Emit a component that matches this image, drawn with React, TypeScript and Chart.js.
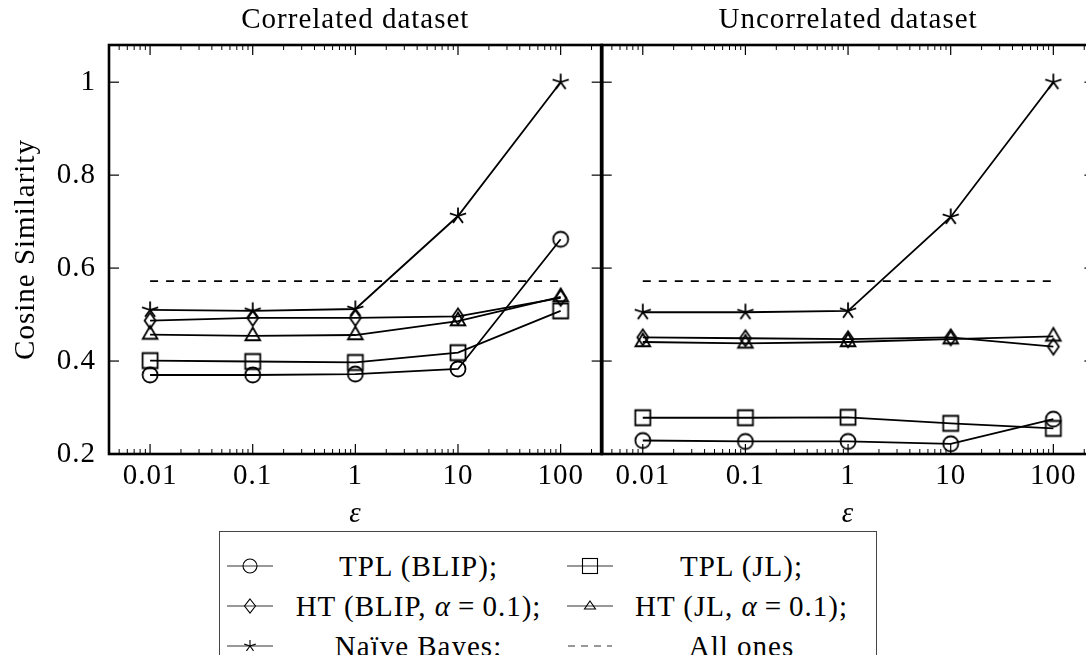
import React, { useEffect, useRef } from 'react';
import { Chart, registerables } from 'chart.js';

Chart.register(...registerables);

const FONT = '"Liberation Serif", "Times New Roman", serif';
const FS = 29;

// ---- data ----
const epsilons = [0.01, 0.1, 1, 10, 100];
const xTickValues = [0.01, 0.1, 1, 10, 100];
const xTickLabels = ['0.01', '0.1', '1', '10', '100'];
const yTickValues = [0.2, 0.4, 0.6, 0.8, 1];
const yTickLabels = ['0.2', '0.4', '0.6', '0.8', '1'];
const xMinorMultipliers = [2, 3, 4, 5, 6, 7, 8, 9];
const xMin = 0.00398;
const xMax = 251.2;
const yMin = 0.2;
const yMax = 1.08;

const seriesNames = ['TPL (BLIP)', 'TPL (JL)', 'HT (BLIP, α = 0.1)', 'HT (JL, α = 0.1)', 'Naïve Bayes', 'All ones'];
const markerKinds = ['circle', 'square', 'diamond', 'triangle', 'star', 'dash'];

// Correlated dataset
const corrTplBlip = [0.370, 0.370, 0.372, 0.383, 0.662];
const corrTplJl = [0.401, 0.399, 0.397, 0.418, 0.508];
const corrHtBlip = [0.487, 0.493, 0.493, 0.496, 0.536];
const corrHtJl = [0.457, 0.454, 0.456, 0.486, 0.538];
const corrNaive = [0.510, 0.508, 0.512, 0.712, 1.0];
const corrAllOnes = [0.572, 0.572, 0.572, 0.572, 0.572];

// Uncorrelated dataset
const uncTplBlip = [0.229, 0.227, 0.227, 0.222, 0.275];
const uncTplJl = [0.278, 0.278, 0.279, 0.266, 0.255];
const uncHtBlip = [0.451, 0.449, 0.447, 0.451, 0.431];
const uncHtJl = [0.441, 0.438, 0.441, 0.447, 0.453];
const uncNaive = [0.505, 0.505, 0.508, 0.710, 1.0];
const uncAllOnes = [0.572, 0.572, 0.572, 0.572, 0.572];

const panelTitles = ['Correlated dataset', 'Uncorrelated dataset'];
const yAxisTitle = 'Cosine Similarity';
const xAxisTitle = 'ε';

function makeMarker(kind: string): HTMLCanvasElement {
  const size = 22;
  const c = document.createElement('canvas');
  c.width = size;
  c.height = size;
  const ctx = c.getContext('2d')!;
  ctx.strokeStyle = '#000';
  ctx.lineWidth = 1.8;
  const m = size / 2;
  ctx.beginPath();
  if (kind === 'circle') {
    ctx.arc(m, m, 7.5, 0, Math.PI * 2);
  } else if (kind === 'square') {
    ctx.rect(m - 7.5, m - 7.5, 15, 15);
  } else if (kind === 'diamond') {
    ctx.moveTo(m, m - 8);
    ctx.lineTo(m + 5.5, m);
    ctx.lineTo(m, m + 8);
    ctx.lineTo(m - 5.5, m);
    ctx.closePath();
  } else if (kind === 'triangle') {
    const r = 8.5;
    ctx.moveTo(m, m - r);
    ctx.lineTo(m + r * 0.866, m + r / 2);
    ctx.lineTo(m - r * 0.866, m + r / 2);
    ctx.closePath();
  } else if (kind === 'star') {
    for (let k = 0; k < 5; k++) {
      const a = (-90 + 72 * k) * Math.PI / 180;
      ctx.moveTo(m, m);
      ctx.lineTo(m + 8.5 * Math.cos(a), m + 8.5 * Math.sin(a));
    }
  }
  ctx.stroke();
  return c;
}

const axesPlugin = {
  id: 'pgfAxes',
  afterDraw(chart: any, _args: any, opts: any) {
    const { ctx, chartArea: a, scales } = chart;
    const xs = scales.x;
    const ys = scales.y;
    ctx.save();
    ctx.strokeStyle = '#000';
    const seg = (x1: number, y1: number, x2: number, y2: number) => {
      ctx.beginPath();
      ctx.moveTo(x1, y1);
      ctx.lineTo(x2, y2);
      ctx.stroke();
    };
    // minor x ticks
    ctx.lineWidth = 1;
    for (let d = -3; d <= 2; d++) {
      for (const k of xMinorMultipliers) {
        const v = k * Math.pow(10, d);
        if (v < xs.min || v > xs.max) continue;
        const px = xs.getPixelForValue(v);
        seg(px, a.top, px, a.top + 5);
        seg(px, a.bottom, px, a.bottom - 5);
      }
    }
    // major x ticks
    ctx.lineWidth = 1.2;
    for (const v of xTickValues) {
      const px = xs.getPixelForValue(v);
      seg(px, a.top, px, a.top + 10);
      seg(px, a.bottom, px, a.bottom - 10);
    }
    // y ticks
    for (const v of yTickValues) {
      const py = ys.getPixelForValue(v);
      seg(a.left, py, a.left + 10, py);
      seg(a.right, py, a.right - 10, py);
    }
    // frame
    ctx.lineWidth = 2.6;
    ctx.strokeRect(a.left, a.top, a.right - a.left, a.bottom - a.top);
    if (opts.sharedEdge === 'right') {
      ctx.lineWidth = 3.8;
      seg(a.right, a.top - 1, a.right, a.bottom + 1);
    } else if (opts.sharedEdge === 'left') {
      ctx.lineWidth = 3.8;
      seg(a.left, a.top - 1, a.left, a.bottom + 1);
    }
    // labels
    ctx.fillStyle = '#000';
    try { (ctx as any).letterSpacing = '1px'; } catch (e) { /* ignore */ }
    ctx.font = `${FS}px ${FONT}`;
    ctx.textAlign = 'center';
    ctx.textBaseline = 'middle';
    xTickValues.forEach((v, i) => {
      ctx.fillText(xTickLabels[i], xs.getPixelForValue(v), a.bottom + 22);
    });
    const cx = (a.left + a.right) / 2;
    ctx.fillText(opts.title, cx, 20);
    ctx.font = `italic ${FS}px ${FONT}`;
    ctx.fillText(xAxisTitle, cx, a.bottom + 60);
    if (opts.showY) {
      ctx.font = `${FS}px ${FONT}`;
      ctx.textAlign = 'right';
      yTickValues.forEach((v, i) => {
        ctx.fillText(yTickLabels[i], a.left - 13, ys.getPixelForValue(v));
      });
      ctx.save();
      ctx.translate(26, (a.top + a.bottom) / 2);
      ctx.rotate(-Math.PI / 2);
      ctx.textAlign = 'center';
      ctx.fillText(yAxisTitle, 0, 0);
      ctx.restore();
    }
    ctx.restore();
  },
};

function buildChart(canvas: HTMLCanvasElement, series: number[][], title: string, showY: boolean, sharedEdge: string, padding: any) {
  const markers = markerKinds.map((k) => (k === 'dash' ? null : makeMarker(k)));
  const datasets = series.map((vals, i) => ({
    label: seriesNames[i],
    data: epsilons.map((x, j) => ({ x, y: vals[j] })),
    borderColor: '#000',
    backgroundColor: 'transparent',
    borderWidth: 1.8,
    borderDash: markerKinds[i] === 'dash' ? [8, 8] : [],
    pointStyle: (markers[i] || 'circle') as any,
    pointRadius: markerKinds[i] === 'dash' ? 0 : 8,
    pointHoverRadius: markerKinds[i] === 'dash' ? 0 : 8,
    tension: 0,
    fill: false,
    clip: false as any,
  }));
  return new Chart(canvas, {
    type: 'line',
    data: { datasets },
    options: {
      animation: false,
      responsive: false,
      devicePixelRatio: 1,
      events: [],
      layout: { padding, autoPadding: false } as any,
      plugins: {
        legend: { display: false },
        tooltip: { enabled: false },
        pgfAxes: { title, showY, sharedEdge },
      } as any,
      scales: {
        x: { type: 'logarithmic', min: xMin, max: xMax, display: false, offset: false },
        y: { type: 'linear', min: yMin, max: yMax, display: false },
      },
    },
    plugins: [axesPlugin],
  });
}

function LegendMarker({ kind, left, cy }: { kind: string; left: number; cy: number }) {
  const m = 23;
  let shape: any = null;
  const sp = { fill: 'none', stroke: '#000', strokeWidth: 1.1 };
  if (kind === 'circle') shape = <circle cx={m} cy={10} r={7} {...sp} />;
  if (kind === 'square') shape = <rect x={m - 7.5} y={2.5} width={15} height={15} {...sp} />;
  if (kind === 'diamond') shape = <polygon points={`${m},3 ${m + 5.5},10 ${m},17 ${m - 5.5},10`} {...sp} />;
  if (kind === 'triangle') shape = <polygon points={`${m},5 ${m + 5.5},13 ${m - 5.5},13`} {...sp} />;
  if (kind === 'star') {
    const pts = [0, 1, 2, 3, 4].map((k) => {
      const a = (-90 + 72 * k) * Math.PI / 180;
      return <line key={k} x1={m} y1={10} x2={m + 6 * Math.cos(a)} y2={10 + 6 * Math.sin(a)} stroke="#000" strokeWidth={1.1} />;
    });
    shape = <g>{pts}</g>;
  }
  return (
    <svg width={46} height={20} style={{ position: 'absolute', left, top: cy - 10 }}>
      {kind === 'dash' ? (
        <line x1={1} y1={10} x2={45} y2={10} stroke="#333" strokeWidth={1.1} strokeDasharray="7 6" />
      ) : (
        <line x1={0} y1={10} x2={46} y2={10} stroke="#333" strokeWidth={1.1} />
      )}
      {shape}
    </svg>
  );
}

function renderLabel(text: string) {
  const parts = text.split('α = ');
  if (parts.length === 1) return text;
  return (
    <>
      {parts[0]}
      <i>α</i>
      <span style={{ margin: '0 7px' }}>=</span>
      {parts[1]}
    </>
  );
}

export default function App() {
  const leftRef = useRef<HTMLCanvasElement>(null);
  const rightRef = useRef<HTMLCanvasElement>(null);

  useEffect(() => {
    const c1 = buildChart(
      leftRef.current!,
      [corrTplBlip, corrTplJl, corrHtBlip, corrHtJl, corrNaive, corrAllOnes],
      panelTitles[0],
      true,
      'right',
      { left: 109, top: 45, right: 1.3, bottom: 540 - 454 }
    );
    const c2 = buildChart(
      rightRef.current!,
      [uncTplBlip, uncTplJl, uncHtBlip, uncHtJl, uncNaive, uncAllOnes],
      panelTitles[1],
      false,
      'left',
      { left: 1.7, top: 45, right: 500 - 494.4, bottom: 540 - 454 }
    );
    return () => {
      c1.destroy();
      c2.destroy();
    };
  }, []);

  const colMarkerLeft = [227, 567];
  const colTextLeft = [277, 618];
  const colTextWidth = [283, 247];
  const rowCy = [566, 606, 646];

  return (
    <div style={{ position: 'fixed', left: 0, top: 0, width: 1086, height: 655, overflow: 'hidden', background: '#fff' }}>
      <canvas ref={leftRef} width={603} height={540} style={{ position: 'absolute', left: 0, top: 0, width: 603, height: 540 }} />
      <canvas ref={rightRef} width={500} height={540} style={{ position: 'absolute', left: 600, top: 0, width: 500, height: 540 }} />
      <div
        style={{
          position: 'absolute',
          left: 219,
          top: 531,
          width: 658,
          height: 200,
          border: '1.5px solid #444',
          background: '#fff',
          boxSizing: 'border-box',
        }}
      />
      {seriesNames.map((name, i) => {
        const col = i % 2;
        const row = Math.floor(i / 2);
        const label = i === seriesNames.length - 1 ? name : name + ';';
        return (
          <React.Fragment key={name}>
            <LegendMarker kind={markerKinds[i]} left={colMarkerLeft[col]} cy={rowCy[row]} />
            <div
              style={{
                position: 'absolute',
                left: colTextLeft[col],
                top: rowCy[row] - 20,
                width: colTextWidth[col],
                height: 40,
                lineHeight: '40px',
                textAlign: 'center',
                fontFamily: FONT,
                fontSize: FS,
                letterSpacing: '1px',
                color: '#000',
                whiteSpace: 'nowrap',
              }}
            >
              {renderLabel(label)}
            </div>
          </React.Fragment>
        );
      })}
    </div>
  );
}
